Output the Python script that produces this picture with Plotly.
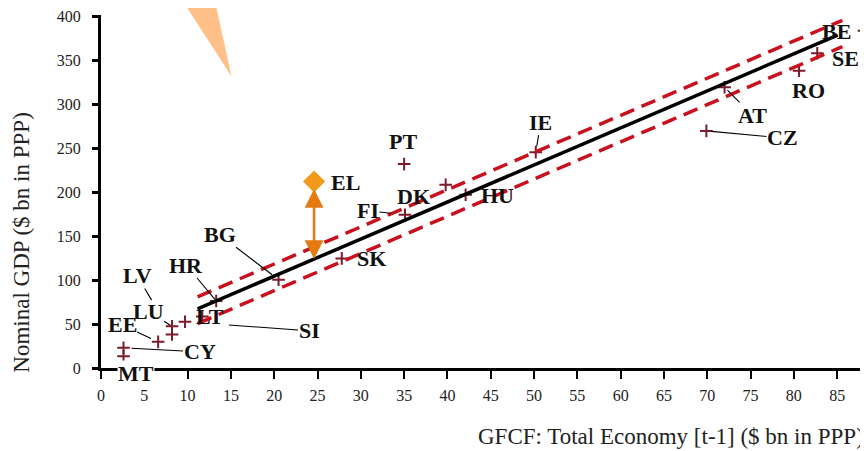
import plotly.graph_objects as go

# ---- data ----
countries = ["MT", "CY", "EE", "LV", "LU", "SI", "LT", "HR", "BG", "SK",
             "FI", "PT", "DK", "HU", "IE", "CZ", "AT", "RO", "SE", "BE"]
gfcf = [2.6, 2.6, 6.6, 8.2, 8.2, 9.7, 11.7, 13.3, 20.5, 27.8,
        35.1, 35.0, 39.8, 42.1, 50.2, 69.9, 72.0, 80.6, 82.7, 88.1]
gdp = [13.4, 23.0, 29.8, 38.1, 47.5, 52.6, 58.6, 76.3, 100.6, 124.8,
       174.5, 232.2, 208.6, 197.3, 245.8, 270.0, 319.7, 338.6, 358.4, 384.1]

el_label = "EL"
el_gfcf = 24.6
el_gdp = 212.4
el_fitted = 124.2

fit_x = [11.15, 85.06]
fit_y = [67.3, 379.2]
band_x = [11.15, 85.6]
band_upper = [81.0, 396.0]
band_lower = [50.6, 366.0]

y_ticks = [0, 50, 100, 150, 200, 250, 300, 350, 400]
x_ticks = list(range(0, 90, 5))

x_title = "GFCF: Total Economy [t-1] ($ bn in PPP)"
y_title = "Nominal GDP ($ bn in PPP)"

# ---- label placement (pixel offsets from the point: ax, ay, leader, standoff) ----
LABELS = {
    "BE": (-28, 1, False, 0),
    "SE": (28, 5, False, 0),
    "RO": (9, 20, False, 0),
    "AT": (28, 28, True, 4),
    "CZ": (76, 7, True, 5),
    "IE": (5, -30, True, 6),
    "PT": (-1, -23, False, 0),
    "DK": (-32, 12, False, 0),
    "HU": (32, 1, False, 0),
    "FI": (-37, -4, True, 14),
    "SK": (30, 0, False, 0),
    "BG": (-59, -45, True, 8),
    "HR": (-30, -36, True, 2),
    "LT": (8, 0, False, 0),
    "SI": (124, 9, True, 44),
    "LV": (-35, -59, True, 40),
    "LU": (-24, -15, True, 2),
    "EE": (-36, -17, True, 8),
    "CY": (76, 4, True, 8),
    "MT": (12, 17, False, 0),
}
EL_OFFSET = (31, 1)

SERIF = "Liberation Serif, Times New Roman, serif"
label_font = dict(family=SERIF, size=22, color="#111111")
MARKER_COLOR = "#7B1B2B"

fig = go.Figure()

# country points
fig.add_trace(go.Scatter(
    x=gfcf, y=gdp, mode="markers",
    marker=dict(symbol="cross-thin", size=9,
                line=dict(width=2, color=MARKER_COLOR)),
    cliponaxis=False, showlegend=False, hoverinfo="text", text=countries,
))

# band lines (dashed red)
for yy in (band_upper, band_lower):
    fig.add_trace(go.Scatter(
        x=band_x, y=yy, mode="lines",
        line=dict(color="#C8101E", width=3.5, dash="15px,8px"),
        showlegend=False, hoverinfo="skip", cliponaxis=False,
    ))

# fitted line
fig.add_trace(go.Scatter(
    x=fit_x, y=fit_y, mode="lines",
    line=dict(color="black", width=3.5),
    showlegend=False, hoverinfo="skip", cliponaxis=False,
))

annotations = []

# EL gap arrow (from actual to fitted value)
annotations.append(dict(
    x=el_gfcf, y=el_fitted, xref="x", yref="y",
    ax=el_gfcf, ay=el_gdp, axref="x", ayref="y",
    text="", showarrow=True, arrowside="end+start",
    arrowhead=2, startarrowhead=2, arrowsize=1.5, startarrowsize=1.5,
    arrowwidth=2.5, arrowcolor="#E47A10", standoff=0, startstandoff=6,
))

# country labels
for c, xv, yv in zip(countries, gfcf, gdp):
    ax, ay, leader, so = LABELS[c]
    a = dict(
        x=xv, y=yv, xref="x", yref="y", text="<b>%s</b>" % c,
        showarrow=True, ax=ax, ay=ay, arrowhead=0, arrowwidth=1.1,
        arrowcolor="black" if leader else "rgba(0,0,0,0)",
        standoff=so, font=label_font, borderpad=0,
    )
    if c == "MT":
        a["bgcolor"] = "white"
    annotations.append(a)

annotations.append(dict(
    x=el_gfcf, y=el_gdp, xref="x", yref="y", text="<b>%s</b>" % el_label,
    showarrow=True, ax=EL_OFFSET[0], ay=EL_OFFSET[1], arrowhead=0,
    arrowcolor="rgba(0,0,0,0)", font=label_font, borderpad=0,
))

# axis titles
annotations.append(dict(
    x=0, y=0.355, xref="paper", yref="paper", xshift=-79,
    text=y_title, textangle=-90, showarrow=False,
    xanchor="center", yanchor="middle",
    font=dict(family=SERIF, size=23, color="#222222"),
))
annotations.append(dict(
    x=1, y=-0.194, xref="paper", yref="paper", xshift=-2,
    text=x_title, showarrow=False, xanchor="right", yanchor="middle",
    font=dict(family=SERIF, size=23, color="#222222"),
))

# EL point (diamond) on top of lines
fig.add_trace(go.Scatter(
    x=[el_gfcf], y=[el_gdp], mode="markers",
    marker=dict(symbol="diamond", size=17, color="#F39A1D"),
    showlegend=False, hoverinfo="text", text=[el_label], cliponaxis=False,
))

# decorative peach wedge at the top (part of a callout, cut by the frame)
shapes = [dict(
    type="path", xref="paper", yref="paper",
    path="M 0.1050 1.0450 L 0.1480 1.0450 L 0.1702 0.8255 Z",
    fillcolor="#FFC189", line=dict(width=0), layer="above",
)]

# the page body adds an 8px offset, so the figure is 8px smaller on each
# leading side to keep the plot at the reference pixel position
fig.update_layout(
    width=860, height=443,
    margin=dict(l=93, r=0, t=7, b=83),
    paper_bgcolor="white", plot_bgcolor="white",
    showlegend=False,
    annotations=annotations,
    shapes=shapes,
    xaxis=dict(
        range=[0, 88.56], tickvals=x_ticks, ticktext=[str(v) for v in x_ticks],
        showline=True, linecolor="black", linewidth=3,
        ticks="outside", ticklen=8, tickwidth=2, tickcolor="black",
        showgrid=False, zeroline=False, ticklabelstandoff=3,
        tickfont=dict(family=SERIF, size=16, color="#222222"),
        automargin=False,
    ),
    yaxis=dict(
        range=[0, 402], tickvals=y_ticks, ticktext=[str(v) for v in y_ticks],
        showline=True, linecolor="black", linewidth=3,
        ticks="outside", ticklen=6, tickwidth=2.5, tickcolor="black",
        showgrid=False, zeroline=False, ticklabelstandoff=8,
        tickfont=dict(family=SERIF, size=16, color="#222222"),
        automargin=False,
    ),
)

fig.write_html("out.html")
